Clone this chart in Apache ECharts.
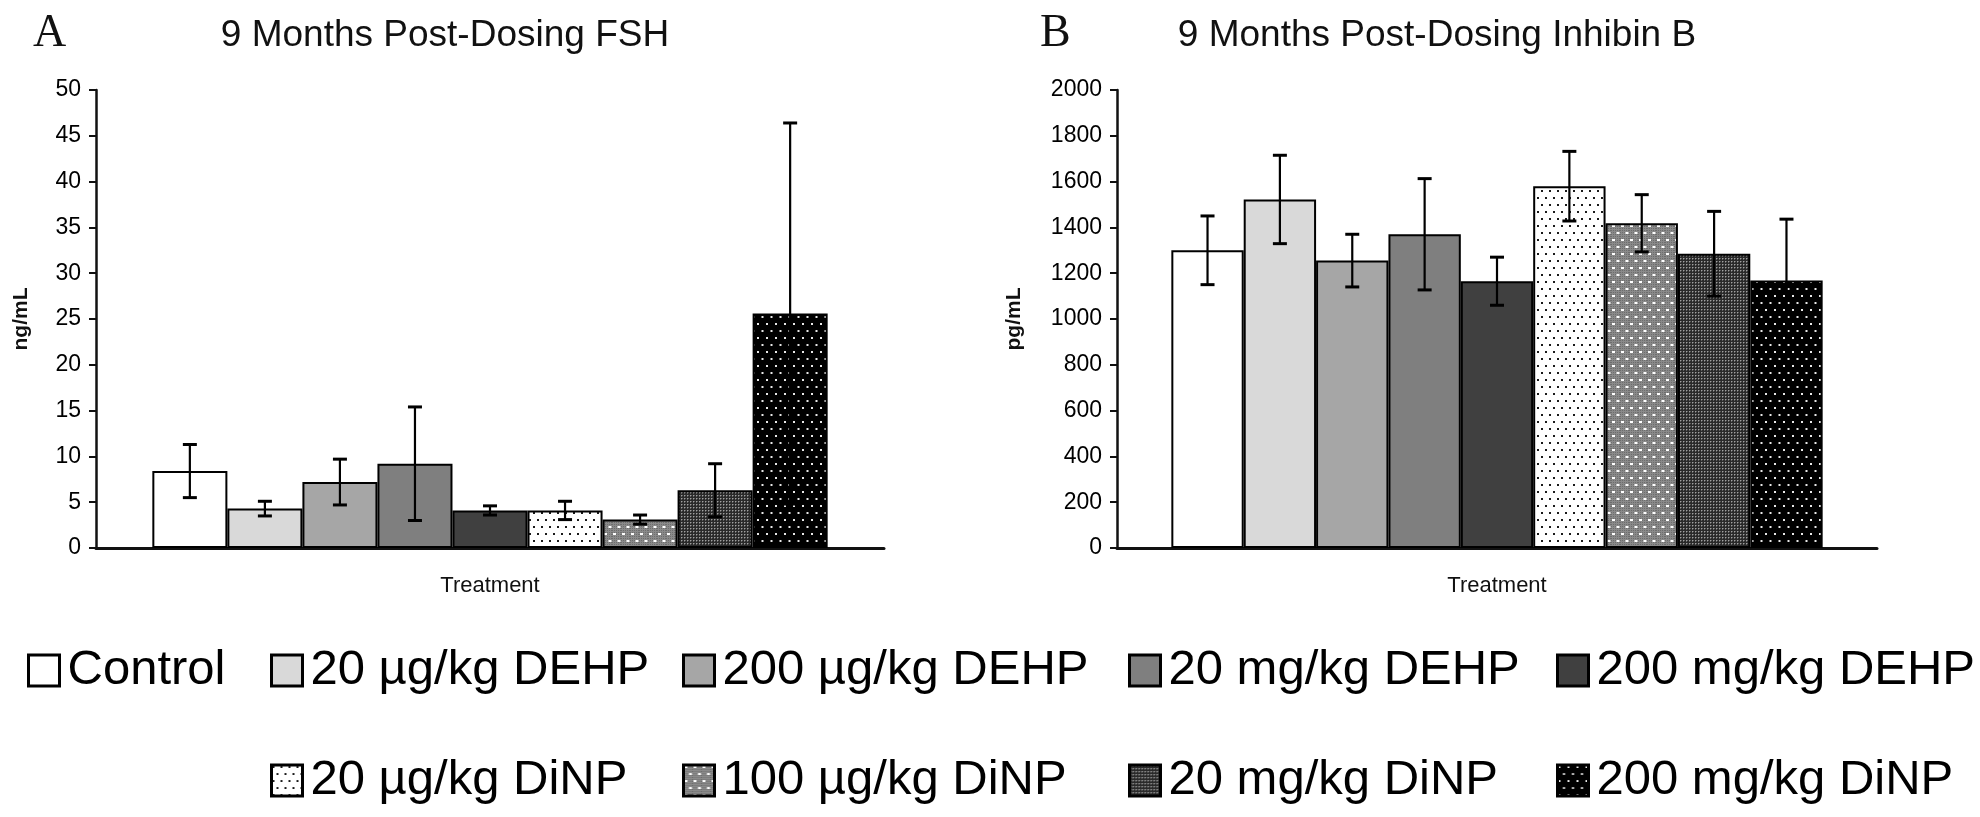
<!DOCTYPE html>
<html>
<head>
<meta charset="utf-8">
<script src="https://cdn.jsdelivr.net/npm/echarts@6/dist/echarts.min.js"></script>
<style>
html,body{margin:0;padding:0;background:#fff;}
#chart{width:1980px;height:817px;}
</style>
</head>
<body>
<div id="chart"></div>
<script>
// ---- data ----
const treatments = ['Control','20 µg/kg DEHP','200 µg/kg DEHP','20 mg/kg DEHP','200 mg/kg DEHP','20 µg/kg DiNP','100 µg/kg DiNP','20 mg/kg DiNP','200 mg/kg DiNP'];
const fshMean = [8.4, 4.3, 7.2, 9.2, 4.1, 4.1, 3.1, 6.3, 25.6];
const fshErr  = [2.9, 0.8, 2.5, 6.2, 0.5, 1.0, 0.5, 2.9, 20.8];
const inhMean = [1300, 1522, 1255, 1370, 1165, 1580, 1418, 1285, 1168];
const inhErr  = [150, 193, 115, 243, 105, 152, 125, 185, 268];
const fshTicks = {min:0, max:50, interval:5};
const inhTicks = {min:0, max:2000, interval:200};

// ---- patterns ----
function makePattern(w, h, bg, draw){
  const c = document.createElement('canvas');
  c.width = w; c.height = h;
  const ctx = c.getContext('2d');
  ctx.fillStyle = bg; ctx.fillRect(0,0,w,h);
  draw(ctx);
  return {image: c, repeat: 'repeat'};
}
function stagDots(bg, dot, sx, sy, d){
  return makePattern(sx, sy*2, bg, ctx=>{
    ctx.fillStyle = dot;
    ctx.fillRect(1,1,d,d);
    ctx.fillRect(1+sx/2,1+sy,d,d);
  });
}
const fills = [
  '#ffffff',
  '#d9d9d9',
  '#a6a6a6',
  '#7f7f7f',
  '#404040',
  stagDots('#ffffff', '#1a1a1a', 8, 7, 2),
  makePattern(9, 14, '#8a8a8a', ctx=>{
    ctx.fillStyle='#6e6e6e';
    for(let x=0;x<9;x+=2)for(let y=0;y<14;y+=2)ctx.fillRect(x,y,1,1);
    ctx.fillStyle='#ffffff';
    ctx.fillRect(1,1,3,2); ctx.fillRect(5.5,8,3,2);
  }),
  makePattern(3, 3, '#2a2a2a', ctx=>{
    ctx.fillStyle='#a0a0a0';
    ctx.fillRect(0,0,1,1);
    ctx.fillStyle='#606060';
    ctx.fillRect(1,0,1,1); ctx.fillRect(0,1,1,1);
  }),
  stagDots('#000000', '#e8e8e8', 9, 7, 2)
];

const FONT = 'Liberation Sans';
const GAP = 0.143;

function errSeries(gridIdx, means, errs){
  const data = means.map((m,i)=>[0, m, errs[i], i]);
  return {
    type:'custom', xAxisIndex:gridIdx, yAxisIndex:gridIdx, z:10, silent:true,
    encode:{x:0, y:1},
    data: data,
    renderItem: function(params, api){
      const m = api.value(1), e = api.value(2), i = api.value(3);
      const c = api.coord([0, m]);
      const band = api.size([1,0])[0];
      const total = band*(1-GAP);
      const bw = total/treatments.length;
      const cx = c[0] - total/2 + (i+0.5)*bw;
      const top = api.coord([0, m+e])[1];
      const bot = api.coord([0, m-e])[1];
      const cap = 7;
      const st = {stroke:'#000', lineWidth:2.2};
      return {type:'group', children:[
        {type:'line', shape:{x1:cx,y1:top,x2:cx,y2:bot}, style:st},
        {type:'line', shape:{x1:cx-cap,y1:top,x2:cx+cap,y2:top}, style:{stroke:'#000', lineWidth:3}},
        {type:'line', shape:{x1:cx-cap,y1:bot,x2:cx+cap,y2:bot}, style:{stroke:'#000', lineWidth:3}}
      ]};
    }
  };
}

const series = [];
[fshMean, inhMean].forEach((arr, g)=>{
  treatments.forEach((t,i)=>{
    series.push({
      type:'bar', name:t, xAxisIndex:g, yAxisIndex:g,
      data:[arr[i]],
      barGap:'0%', barCategoryGap:(GAP*100)+'%',
      itemStyle:{color:fills[i], borderColor:'#000', borderWidth:2},
      emphasis:{disabled:true}
    });
  });
});
series.push(errSeries(0, fshMean, fshErr));
series.push(errSeries(1, inhMean, inhErr));

function yAxis(g, ticks, name, nameGap){
  return {
    type:'value', gridIndex:g, min:ticks.min, max:ticks.max, interval:ticks.interval,
    name:name, nameLocation:'middle', nameGap:nameGap,
    nameTextStyle:{fontFamily:FONT, fontSize:21, fontWeight:'bold', color:'#111'},
    axisLine:{show:true, lineStyle:{color:'#111', width:2.5}},
    axisTick:{show:true, inside:false, length:7, lineStyle:{color:'#111', width:2}},
    axisLabel:{fontFamily:FONT, fontSize:23, color:'#000', margin:15, formatter:v=>String(v)},
    splitLine:{show:false}
  };
}
function xAxis(g){
  return {
    type:'category', gridIndex:g, data:['Treatment'],
    name:'Treatment', nameLocation:'middle', nameGap:27,
    nameTextStyle:{fontFamily:FONT, fontSize:22, color:'#111'},
    axisLine:{show:true, lineStyle:{color:'#111', width:3}},
    axisTick:{show:false}, axisLabel:{show:false}
  };
}

const legendPos = [
  [27,646],[270,646],[682,646],[1128,646],[1556,646],
  [270,756],[682,756],[1128,756],[1556,756]
];
const legends = treatments.map((t,i)=>({
  left:legendPos[i][0], top:legendPos[i][1], padding:0,
  data:[t], icon:'rect', itemWidth:31, itemHeight:31,
  itemStyle:{borderColor:'#000', borderWidth:3},
  textStyle:{fontFamily:FONT, fontSize:49, color:'#000', padding:[0,0,0,3]},
  selectedMode:false
}));

const option = {
  animation:false,
  backgroundColor:'#ffffff',
  title:[
    {text:'A', left:28, top:6, textStyle:{fontFamily:'Liberation Serif', fontSize:46, fontWeight:'normal', color:'#111'}},
    {text:'9 Months Post-Dosing FSH', left:440, top:12, textAlign:'center', textStyle:{fontFamily:FONT, fontSize:37, fontWeight:'normal', color:'#111'}},
    {text:'B', left:1035, top:6, textStyle:{fontFamily:'Liberation Serif', fontSize:46, fontWeight:'normal', color:'#111'}},
    {text:'9 Months Post-Dosing Inhibin B', left:1432, top:12, textAlign:'center', textStyle:{fontFamily:FONT, fontSize:37, fontWeight:'normal', color:'#111'}}
  ],
  legend: legends,
  grid:[
    {left:96, right:1096, top:90, bottom:269},
    {left:1117, right:103, top:90, bottom:269}
  ],
  xAxis:[xAxis(0), xAxis(1)],
  yAxis:[yAxis(0, fshTicks, 'ng/mL', 64), yAxis(1, inhTicks, 'pg/mL', 92)],
  series: series
};
const chart = echarts.init(document.getElementById('chart'), null, {renderer:'canvas'});
chart.setOption(option);
</script>
</body>
</html>
